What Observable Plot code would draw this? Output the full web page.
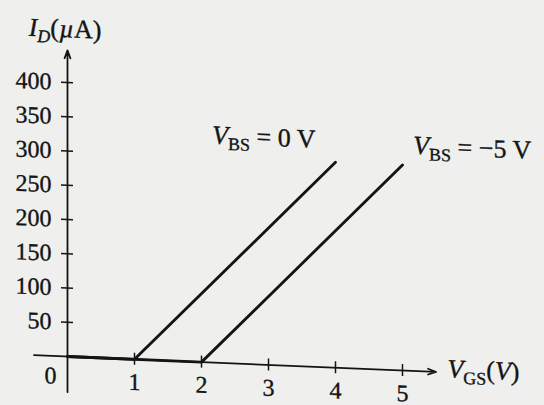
<!DOCTYPE html>
<html>
<head>
<meta charset="utf-8">
<script src="https://cdn.jsdelivr.net/npm/d3@7"></script>
<script src="https://cdn.jsdelivr.net/npm/@observablehq/plot@0.6"></script>
<style>
  html, body { margin: 0; padding: 0; background: #efefed; overflow: hidden; }
  #chart svg { display: block; transform: skewY(2.4deg); transform-origin: 67px 356px; }
</style>
</head>
<body>
<div id="chart"></div>
<script>
// Drain current vs gate-source voltage for two body-source biases
const vgsBody0 = [0, 1, 4];        // V_BS = 0 V, threshold at 1 V
const idBody0 = [0, 0, 300];       // µA
const vgsBodyNeg5 = [0, 2, 5];     // V_BS = −5 V, threshold at 2 V
const idBodyNeg5 = [0, 0, 300];    // µA

const xTicks = [1, 2, 3, 4, 5];
const yTicks = [50, 100, 150, 200, 250, 300, 350, 400];
const curveNames = ["VBS = 0 V", "VBS = −5 V"];
const xTitle = "VGS(V)";
const yTitle = "ID(µA)";

// Axis extents (with arrowheads at the far ends)
const xAxisSpan = [-0.5, 5.5];
const yAxisSpan = [-52, 447];

const curves = [
  ...vgsBody0.map((v, i) => ({vgs: v, id: idBody0[i], curve: curveNames[0]})),
  ...vgsBodyNeg5.map((v, i) => ({vgs: v, id: idBodyNeg5[i], curve: curveNames[1]}))
];

const ink = "#141414";
const font = "Liberation Serif";
const textStyle = {fill: ink, stroke: ink, strokeWidth: 0.35};

const chart = Plot.plot({
  width: 544,
  height: 405,
  margin: 0,
  x: {domain: [0, 5], range: [67, 402], axis: null},
  y: {domain: [0, 400], range: [356, 82], axis: null},
  style: {background: "transparent", overflow: "visible", fontFamily: font, color: ink},
  marks: [
    // axes with arrowheads
    Plot.arrow([xAxisSpan], {x1: d => d[0], x2: d => d[1], y1: 0, y2: 0,
      stroke: ink, strokeWidth: 1.8, headLength: 7, headAngle: 40}),
    Plot.arrow([yAxisSpan], {x1: 0, x2: 0, y1: d => d[0], y2: d => d[1],
      stroke: ink, strokeWidth: 1.8, headLength: 7, headAngle: 40}),
    // tick marks crossing the axes
    Plot.ruleY(yTicks, {y: d => d, x1: 0, x2: 0, insetLeft: -6, insetRight: -6,
      stroke: ink, strokeWidth: 1.5}),
    Plot.ruleX(xTicks, {x: d => d, y1: 0, y2: 0, insetTop: -6, insetBottom: -6,
      stroke: ink, strokeWidth: 1.5}),
    // tick labels
    Plot.text(yTicks, {x: 0, y: d => d, text: d => String(d), dx: -16,
      textAnchor: "end", lineAnchor: "middle", fontSize: 24, ...textStyle}),
    Plot.text(xTicks, {x: d => d, y: 0, text: d => String(d), dy: 23,
      textAnchor: "middle", lineAnchor: "middle", fontSize: 24, ...textStyle}),
    Plot.text([0], {x: 0, y: 0, text: d => String(d), dx: -11, dy: 20,
      textAnchor: "end", lineAnchor: "middle", fontSize: 24, ...textStyle}),
    // characteristic curves
    Plot.line(curves, {x: "vgs", y: "id", z: "curve", stroke: ink, strokeWidth: 2.8}),
    // curve labels
    Plot.text(curveNames, {x: [2.16, 5.16], y: [320, 317], text: d => d,
      textAnchor: "start", lineAnchor: "bottom", fontSize: 26, ...textStyle}),
    // axis titles
    Plot.text([yTitle], {x: -0.58, y: 466, text: d => d,
      textAnchor: "start", lineAnchor: "bottom", fontSize: 26, ...textStyle}),
    Plot.text([xTitle], {x: 5.67, y: -7, text: d => d,
      textAnchor: "start", lineAnchor: "bottom", fontSize: 26, ...textStyle})
  ]
});

// Typeset symbols with italic letters and subscripts
const rich = {
  "VBS = 0 V": [["V", "i"], ["BS", "sub"], [" = 0 V", ""]],
  "VBS = −5 V": [["V", "i"], ["BS", "sub"], [" = −5 V", ""]],
  "VGS(V)": [["V", "i"], ["GS", "sub"], ["(", ""], ["V", "i"], [")", ""]],
  "ID(µA)": [["I", "i"], ["D", "isub"], ["(", ""], ["µ", "i"], ["A)", ""]]
};
d3.select(chart).selectAll("text").each(function () {
  const parts = rich[this.textContent];
  if (!parts) return;
  const t = d3.select(this);
  t.text(null);
  let shifted = false;
  for (const [s, kind] of parts) {
    const span = t.append("tspan").text(s);
    const isSub = kind === "sub" || kind === "isub";
    if (kind === "i" || kind === "isub") span.attr("font-style", "italic");
    if (isSub) {
      span.attr("font-size", 18).attr("dy", shifted ? null : 6);
      shifted = true;
    } else if (shifted) {
      span.attr("dy", -6);
      shifted = false;
    }
  }
});

document.getElementById("chart").appendChild(chart);
</script>
</body>
</html>
